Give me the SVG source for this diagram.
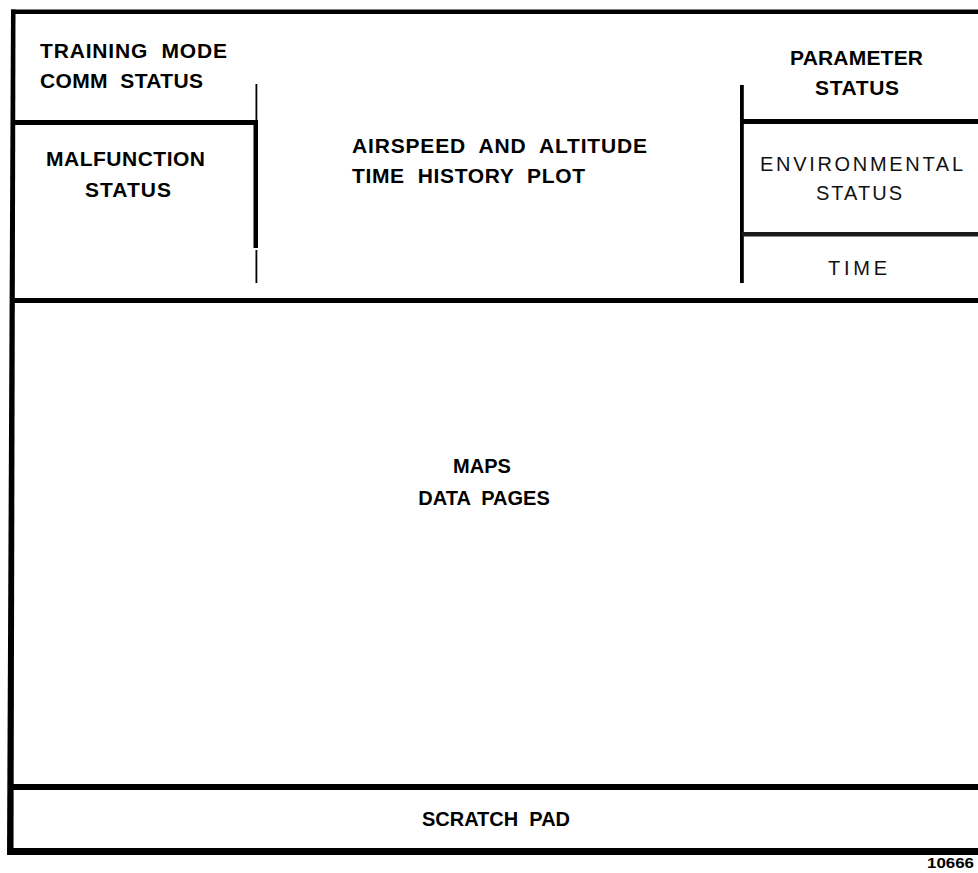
<svg xmlns="http://www.w3.org/2000/svg" width="978" height="873" viewBox="0 0 978 873">
  <style>
    text { white-space: pre; }
    .rule { fill: #000; }
    .lbl { font-family: "Liberation Sans", Arial, sans-serif; font-weight: bold; font-size: 21px; fill: #000; }
    .lbl-m { font-family: "Liberation Sans", Arial, sans-serif; font-weight: bold; font-size: 20px; fill: #000; text-anchor: middle; }
    .lbl-r { font-family: "Liberation Sans", Arial, sans-serif; font-weight: normal; font-size: 20px; fill: #111; }
    .tag { font-family: "Liberation Sans", Arial, sans-serif; font-weight: bold; font-size: 15px; fill: #000; }
  </style>
  <rect width="978" height="873" fill="#fff"/>

  <!-- display frame and panel dividers -->
  <g id="frame" class="rule">
    <rect x="11" y="9.5" width="967" height="4.5"/>
    <polygon points="11,9.5 15.5,9.5 13.5,855 7,855"/>
    <rect x="10" y="298" width="968" height="5"/>
    <rect x="8" y="784" width="970" height="6"/>
    <rect x="7" y="848" width="971" height="7"/>
    <!-- left column -->
    <rect x="13" y="120" width="245" height="5"/>
    <rect x="255.5" y="84" width="1.8" height="36"/>
    <rect x="253.5" y="120" width="4.5" height="128"/>
    <rect x="255.5" y="250" width="1.8" height="33"/>
    <!-- right column -->
    <rect x="740" y="85" width="3.8" height="198"/>
    <rect x="742" y="119" width="236" height="5"/>
    <rect x="742" y="232" width="236" height="4.5" fill="#1a1a1a"/>
  </g>

  <g id="training-mode">
    <text class="lbl" x="40" y="58" textLength="187" lengthAdjust="spacing">TRAINING  MODE</text>
    <text class="lbl" x="40" y="88" textLength="163" lengthAdjust="spacing">COMM  STATUS</text>
  </g>

  <g id="malfunction-status">
    <text class="lbl" x="46" y="166" textLength="159" lengthAdjust="spacing">MALFUNCTION</text>
    <text class="lbl" x="85" y="197" textLength="86" lengthAdjust="spacing">STATUS</text>
  </g>

  <g id="airspeed-altitude-plot">
    <text class="lbl" x="352" y="153" textLength="295" lengthAdjust="spacing">AIRSPEED  AND  ALTITUDE</text>
    <text class="lbl" x="352" y="183" textLength="233" lengthAdjust="spacing">TIME  HISTORY  PLOT</text>
  </g>

  <g id="parameter-status">
    <text class="lbl" x="790" y="65" textLength="133" lengthAdjust="spacing">PARAMETER</text>
    <text class="lbl" x="815" y="95" textLength="84" lengthAdjust="spacing">STATUS</text>
  </g>

  <g id="environmental-status">
    <text class="lbl-r" x="760" y="171" textLength="203" lengthAdjust="spacing">ENVIRONMENTAL</text>
    <text class="lbl-r" x="816" y="200" textLength="86" lengthAdjust="spacing">STATUS</text>
  </g>

  <g id="time">
    <text class="lbl-r" x="828" y="275" textLength="59" lengthAdjust="spacing">TIME</text>
  </g>

  <g id="maps-data-pages">
    <text class="lbl-m" x="482" y="473">MAPS</text>
    <text class="lbl-m" x="484" y="505">DATA  PAGES</text>
  </g>

  <g id="scratch-pad">
    <text class="lbl-m" x="496" y="826">SCRATCH  PAD</text>
  </g>

  <text class="tag" x="927" y="868" textLength="47" lengthAdjust="spacingAndGlyphs">10666</text>
</svg>
